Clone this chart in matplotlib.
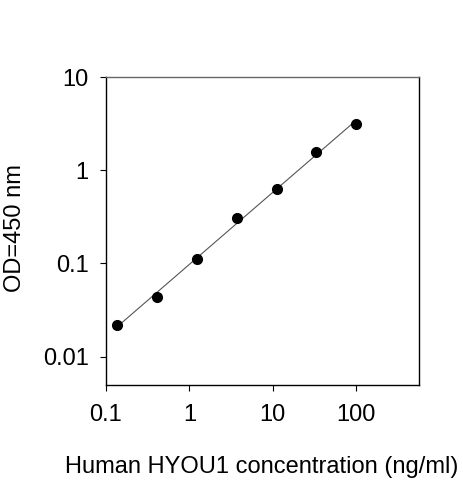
import numpy as np
import matplotlib
matplotlib.use("Agg")
import matplotlib.pyplot as plt
from matplotlib.ticker import FixedLocator, FixedFormatter, NullLocator

conc = [0.137, 0.412, 1.235, 3.70, 11.11, 33.33, 100.0]
od = [0.0218, 0.044, 0.113, 0.305, 0.63, 1.56, 3.15]
xticks = [0.1, 1, 10, 100]
xticklabels = ["0.1", "1", "10", "100"]
yticks = [0.01, 0.1, 1, 10]
yticklabels = ["0.01", "0.1", "1", "10"]

plt.rcParams['font.family'] = ['Liberation Sans', 'DejaVu Sans']

fig = plt.figure(figsize=(4.63, 4.80), dpi=100)
W, H = 463, 480
ax = fig.add_axes([106 / W, 1 - 385 / H, (419 - 106) / W, (385 - 77) / H])
ax.set_xscale('log')
ax.set_yscale('log')
ax.set_xlim(0.1, 565)
ax.set_ylim(0.00497, 10)

# fitted trend line in log-log space
lx = np.log10(conc)
ly = np.log10(od)
p = np.polyfit(lx, ly, 1)
fx = np.array([conc[0], conc[-1]])
fy = 10 ** np.polyval(p, np.log10(fx))
ax.plot(fx, fy, color='#555555', lw=0.8, zorder=2)
ax.plot(conc, od, 'o', color='black', ms=7, zorder=3)

ax.xaxis.set_major_locator(FixedLocator(xticks))
ax.xaxis.set_major_formatter(FixedFormatter(xticklabels))
ax.yaxis.set_major_locator(FixedLocator(yticks))
ax.yaxis.set_major_formatter(FixedFormatter(yticklabels))
ax.xaxis.set_minor_locator(NullLocator())
ax.yaxis.set_minor_locator(NullLocator())
ax.tick_params(direction='out', length=4.5, width=0.8, labelsize=17)
ax.tick_params(axis='x', pad=9)
ax.tick_params(axis='y', pad=8)

for s in ['left', 'bottom', 'right']:
    ax.spines[s].set_linewidth(1.0)
    ax.spines[s].set_color('black')
ax.spines['top'].set_linewidth(1.0)
ax.spines['top'].set_color('#666666')

fig.text(262 / W, 1 - 467 / H, "Human HYOU1 concentration (ng/ml)", fontsize=17,
         ha='center', va='center')
fig.text(15 / W, 1 - 228 / H, "OD=450 nm", fontsize=17, rotation=90,
         ha='center', va='center')

fig.savefig("out.png", dpi=100)
